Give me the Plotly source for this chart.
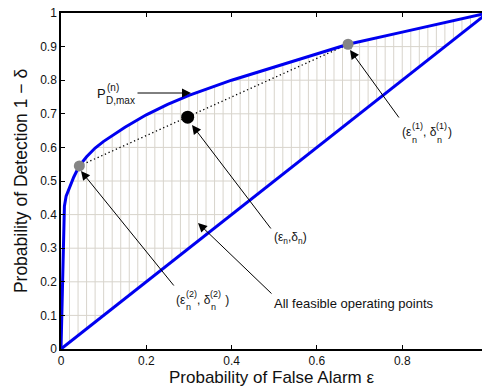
import numpy as np
import plotly.graph_objects as go

# ---------------- data ----------------
# upper ROC boundary P_D,max^(n): false-alarm probability vs detection probability
roc_eps = [0, 0.008, 0.012, 0.02, 0.03, 0.043, 0.06, 0.08, 0.1, 0.15, 0.2, 0.25,
           0.3, 0.4, 0.5, 0.6, 0.673, 0.8, 0.9, 1.0]
roc_pd = [0, 0.425, 0.455, 0.483, 0.512, 0.545, 0.572, 0.598, 0.618, 0.660, 0.697, 0.728,
          0.755, 0.800, 0.840, 0.878, 0.907, 0.943, 0.971, 1.0]
# chance (lower) boundary
chance_eps = [0, 1]
chance_pd = [0, 1]
# operating points
op1_eps, op1_pd = [0.673], [0.907]      # (eps_n^(1), delta_n^(1))
op2_eps, op2_pd = [0.043], [0.545]      # (eps_n^(2), delta_n^(2))
opn_eps, opn_pd = [0.297], [0.690]      # (eps_n, delta_n)
# tick labels
x_ticks = [0, 0.2, 0.4, 0.6, 0.8]
x_ticktext = ["0", "0.2", "0.4", "0.6", "0.8"]
y_ticks = [0, 0.1, 0.2, 0.3, 0.4, 0.5, 0.6, 0.7, 0.8, 0.9, 1.0]
y_ticktext = ["0", "0.1", "0.2", "0.3", "0.4", "0.5", "0.6", "0.7", "0.8", "0.9", "1"]

# ---------------- layout geometry ----------------
W, H = 482, 388
ML, MR, MT, MB = 61, 0, 13, 39
X_MAX = 0.987
FONT = "Liberation Sans, Arial, Helvetica, sans-serif"
BLUE = "#0000f0"
HATCH = "#d8d4cc"
TXT = "#111111"


def px2x(px):
    return (px - ML) / (W - ML - MR) * X_MAX


def py2y(py):
    return (H - MB - py) / (H - MB - MT)


# ---------------- hatch of the feasible region ----------------
hx, hy = [], []
for x in np.arange(0.02, 0.99, 0.02):
    top = float(np.interp(x, roc_eps, roc_pd))
    hx += [x, x, None]
    hy += [float(np.interp(x, chance_eps, chance_pd)), top, None]
for y in np.arange(0.1, 0.95, 0.1):
    left = float(np.interp(y, roc_pd, roc_eps))
    right = float(np.interp(y, chance_pd, chance_eps))
    hx += [left, right, None]
    hy += [y, y, None]

fig = go.Figure()
fig.add_trace(go.Scatter(x=hx, y=hy, mode="lines", line=dict(color=HATCH, width=1),
                         hoverinfo="skip", showlegend=False))
fig.add_trace(go.Scatter(x=[op2_eps[0], op1_eps[0]], y=[op2_pd[0], op1_pd[0]], mode="lines",
                         line=dict(color="black", width=1.3, dash="1.3px,2.7px"),
                         showlegend=False))
fig.add_trace(go.Scatter(x=chance_eps, y=chance_pd, mode="lines",
                         line=dict(color=BLUE, width=3), showlegend=False))
fig.add_trace(go.Scatter(x=roc_eps, y=roc_pd, mode="lines",
                         line=dict(color=BLUE, width=3), showlegend=False))
fig.add_trace(go.Scatter(x=op1_eps + op2_eps, y=op1_pd + op2_pd, mode="markers",
                         marker=dict(color="#858585", size=11), showlegend=False))
fig.add_trace(go.Scatter(x=opn_eps, y=opn_pd, mode="markers",
                         marker=dict(color="black", size=13), showlegend=False))

annotations = []


def arrow(tail, head):
    annotations.append(dict(x=px2x(head[0]), y=py2y(head[1]), ax=px2x(tail[0]), ay=py2y(tail[1]),
                            xref="x", yref="y", axref="x", ayref="y", text="", showarrow=True,
                            arrowhead=2, arrowsize=1.8, arrowwidth=1, arrowcolor="black"))


def label(text, left_px, mid_py, size):
    annotations.append(dict(x=px2x(left_px), y=py2y(mid_py), xref="x", yref="y", text=text,
                            showarrow=False, xanchor="left", yanchor="middle", borderpad=0,
                            font=dict(family=FONT, size=size, color=TXT)))


# P_D,max^(n)
arrow((136, 93), (191, 93))
label("P", 96, 93.5, 13)
label("(n)", 105.5, 87.5, 10)
label("D,max", 104.5, 100, 10)

# (eps_n, delta_n)
arrow((272, 230), (192, 125))
label("(ε<sub>n</sub>,δ<sub>n</sub>)", 272.5, 238, 12)

# (eps_n^(1), delta_n^(1))
arrow((400, 119), (350, 50))
label("(ε", 401, 132, 12)
label("(1)", 410.5, 125.5, 9)
label("n", 411, 139.5, 9)
label(", δ", 422, 132, 12)
label("(1)", 435, 125.5, 9)
label("n", 435.5, 139.5, 9)
label(")", 446.5, 132, 12)

# (eps_n^(2), delta_n^(2))
arrow((175, 287), (81, 171))
label("(ε", 175, 300, 12)
label("(2)", 184.5, 293.5, 9)
label("n", 185, 307, 9)
label(", δ", 196, 300, 12)
label("(2)", 209, 293.5, 9)
label("n", 209.5, 307, 9)
label(" )", 220.5, 300, 12)

# feasible region
arrow((273, 295), (198, 223))
label("All feasible operating points", 272.5, 303.5, 13)

# x-axis title (placed as text just under the tick labels, as in the reference)
annotations.append(dict(x=0.5, y=py2y(388), xref="paper", yref="paper", xanchor="center",
                        yanchor="bottom", showarrow=False, text="Probability of False Alarm ε",
                        borderpad=0, font=dict(family=FONT, size=17, color=TXT)))

axis_common = dict(showgrid=False, zeroline=False, showline=True, linecolor="black",
                   linewidth=1.5, ticks="inside", ticklen=4, tickwidth=1, tickcolor="black",
                   automargin=False,
                   tickfont=dict(family=FONT, size=12, color=TXT))

fig.update_layout(
    width=W, height=H,
    margin=dict(l=ML, r=MR, t=MT, b=MB, autoexpand=False),
    paper_bgcolor="white", plot_bgcolor="white",
    font=dict(family=FONT, color=TXT),
    showlegend=False,
    annotations=annotations,
    xaxis=dict(range=[0, X_MAX], tickvals=x_ticks, ticktext=x_ticktext, mirror="ticks",
               **axis_common),
    yaxis=dict(range=[0, 1], tickvals=y_ticks, ticktext=y_ticktext, mirror=False,
               title=dict(text="Probability of Detection 1 − δ", standoff=8,
                          font=dict(family=FONT, size=17.5, color=TXT)),
               **axis_common),
)

fig.write_html("out.html", config={"displayModeBar": False},
               post_script="document.body.style.margin='0';")
